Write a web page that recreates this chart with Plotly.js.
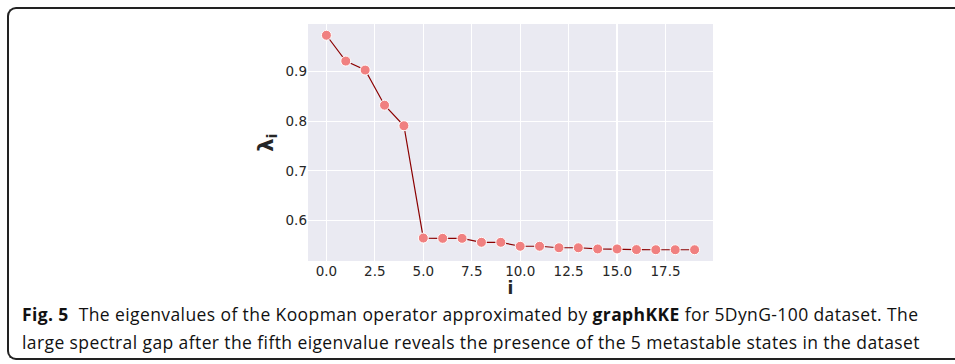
<!DOCTYPE html>
<html>
<head>
<meta charset="utf-8">
<script src="https://cdn.plot.ly/plotly-3.0.1.min.js"></script>
<style>
  html, body { margin: 0; padding: 0; background: #fff; width: 955px; height: 364px; overflow: hidden; }
  #frame { position: absolute; left: 7px; top: 7px; width: 1000px; height: 353px;
           border: 2px solid #222; border-right: none; border-radius: 9px 0 0 9px; box-sizing: border-box; }
  #chart { position: absolute; left: 0; top: 0; width: 955px; height: 364px; }
  .cap { position: absolute; left: 22px; font-family: "Open Sans", sans-serif;
         font-size: 17.5px; line-height: 20px; color: #111; letter-spacing: 0.4px; white-space: nowrap; }
</style>
</head>
<body>
<div id="frame"></div>
<div id="chart"></div>
<div class="cap" style="top:304px"><b>Fig. 5</b>&nbsp; The eigenvalues of the Koopman operator approximated by <b>graphKKE</b> for 5DynG-100 dataset. The</div>
<div class="cap" style="top:332px">large spectral gap after the fifth eigenvalue reveals the presence of the 5 metastable states in the dataset</div>
<script>
const indices = [0,1,2,3,4,5,6,7,8,9,10,11,12,13,14,15,16,17,18,19];
const eigenvalues = [0.9735,0.9214,0.9033,0.8325,0.791,0.5646,0.564,0.564,0.556,0.556,0.548,0.548,0.545,0.545,0.5426,0.5426,0.5413,0.541,0.541,0.541];
const xTicks = [0,2.5,5,7.5,10,12.5,15,17.5];
const xTickLabels = ["0.0","2.5","5.0","7.5","10.0","12.5","15.0","17.5"];
const yTicks = [0.6,0.7,0.8,0.9];
const yTickLabels = ["0.6","0.7","0.8","0.9"];

const trace = {
  x: indices, y: eigenvalues, type: 'scatter', mode: 'lines+markers',
  line: {color: '#8B0000', width: 1.2},
  marker: {color: '#F08080', size: 10, line: {color: '#ffffff', width: 1}},
  hoverinfo: 'skip'
};
const tickFont = {family: 'DejaVu Sans', size: 13.5, color: '#262626'};
const layout = {
  width: 955, height: 364,
  margin: {l: 308, r: 242, t: 24, b: 103},
  paper_bgcolor: 'rgba(0,0,0,0)', plot_bgcolor: '#EAEAF2',
  showlegend: false,
  xaxis: {range: [-0.95, 19.95], tickvals: xTicks, ticktext: xTickLabels, showgrid: true, gridcolor: '#ffffff', gridwidth: 1.2,
          zeroline: false, showline: false, ticks: '', tickfont: tickFont, ticklabelstandoff: 0,
          title: {text: '<b>i</b>', font: {family: 'DejaVu Sans', size: 17, color: '#262626'}, standoff: 0}},
  yaxis: {range: [0.5183, 0.9962], tickvals: yTicks, ticktext: yTickLabels, showgrid: true, gridcolor: '#ffffff', gridwidth: 1.2,
          zeroline: false, showline: false, ticks: '', tickfont: tickFont,
          title: {text: '<b>λ<sub>i</sub></b>', font: {family: 'DejaVu Sans', size: 21, color: '#262626'}, standoff: 6}}
};
Plotly.newPlot('chart', [trace], layout, {displayModeBar: false, staticPlot: true});
</script>
</body>
</html>
